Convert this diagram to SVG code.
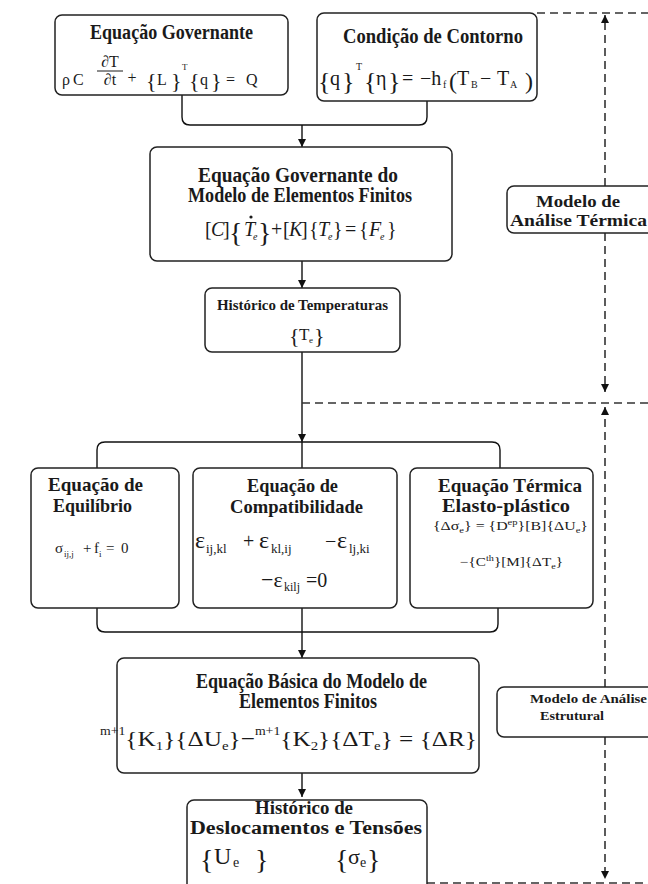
<svg xmlns="http://www.w3.org/2000/svg" width="648" height="884" viewBox="0 0 648 884">
<defs>
<style>
.box{fill:#fff;stroke:#222;stroke-width:1.5}
.ln{fill:none;stroke:#111;stroke-width:1.4}
.dash{fill:none;stroke:#333;stroke-width:1.6;stroke-dasharray:8 5}
.t{font-family:"Liberation Serif",serif;font-weight:bold;fill:#1a1a1a}
.m{font-family:"Liberation Serif",serif;fill:#1a1a1a}
.i{font-style:italic}
</style>
<marker id="ah" viewBox="0 0 10 10" refX="10" refY="5" markerWidth="8" markerHeight="8" markerUnits="userSpaceOnUse" orient="auto">
<path d="M0,0 L10,5 L0,10 Z" fill="#111"/>
</marker>
</defs>
<rect width="648" height="884" fill="#fff"/>

<g id="connectors">
<path class="ln" d="M182,95 V117 Q182,125 190,125 H419 Q427,125 427,117 V101"/>
<path class="ln" d="M302,125 V147" marker-end="url(#ah)"/>
<path class="ln" d="M302,261 V288" marker-end="url(#ah)"/>
<path class="ln" d="M302,352 V442" marker-end="url(#ah)"/>
<path class="ln" d="M97,468 V450 Q97,442 105,442 H492 Q500,442 500,450 V468"/>
<path class="ln" d="M302,442 V468"/>
<path class="ln" d="M97,608 V624 Q97,632 105,632 H490 Q498,632 498,624 V608"/>
<path class="ln" d="M302,608 V632"/>
<path class="ln" d="M302,632 V658" marker-end="url(#ah)"/>
<path class="ln" d="M302,773 V797" marker-end="url(#ah)"/>
<path class="dash" d="M537,13 H648"/>
<path class="dash" d="M605,186 V15" marker-end="url(#ah)"/>
<path class="dash" d="M605,233 V392" marker-end="url(#ah)"/>
<path class="dash" d="M302,403 H648"/>
<path class="dash" d="M605,687 V407" marker-end="url(#ah)"/>
<path class="dash" d="M605,737 V879" marker-end="url(#ah)"/>
<path class="dash" d="M427,883 H648"/>
</g>

<g id="n1">
<rect class="box" x="55" y="15" width="233" height="80" rx="7"/>
<text class="t" x="90" y="39" font-size="20" textLength="163" lengthAdjust="spacingAndGlyphs">Equação Governante</text>
<text class="m" font-size="16" y="85"><tspan x="62">ρ</tspan><tspan x="73">C</tspan></text>
<text class="m" font-size="16" x="110" y="67" text-anchor="middle">∂T</text>
<line x1="97" y1="71" x2="123" y2="71" stroke="#1a1a1a" stroke-width="1"/>
<text class="m" font-size="16" x="110" y="85" text-anchor="middle">∂t</text>
<text class="m" font-size="16" x="132" y="83" text-anchor="middle">+</text>
<text class="m" font-size="22" y="88"><tspan x="146">{</tspan><tspan x="171">}</tspan><tspan x="189">{</tspan><tspan x="211">}</tspan></text>
<text class="m" font-size="16" y="85"><tspan x="157">L</tspan><tspan x="200">q</tspan><tspan x="226">=</tspan><tspan x="246">Q</tspan></text>
<text class="m" font-size="9" x="182" y="70">T</text>
</g>

<g id="n2">
<rect class="box" x="317" y="13" width="220" height="88" rx="7"/>
<text class="t" x="343" y="43" font-size="20" textLength="180" lengthAdjust="spacingAndGlyphs">Condição de Contorno</text>
<text class="m" font-size="26" y="90"><tspan x="318">{</tspan><tspan x="342">}</tspan><tspan x="364">{</tspan><tspan x="388">}</tspan></text>
<text class="m" font-size="24" y="89"><tspan x="449">(</tspan><tspan x="525">)</tspan></text>
<text class="m" font-size="20" y="85"><tspan x="330">q</tspan><tspan x="376">η</tspan><tspan x="402">=</tspan><tspan x="420">−h</tspan><tspan x="457">T</tspan><tspan x="480">−</tspan><tspan x="497">T</tspan></text>
<text class="m" font-size="10" y="88"><tspan x="443">f</tspan><tspan x="471">B</tspan><tspan x="510">A</tspan></text>
<text class="m" font-size="10" x="356" y="70">T</text>
</g>

<g id="n3">
<rect class="box" x="150" y="147" width="302" height="114" rx="7"/>
<text class="t" x="198" y="182" font-size="20" textLength="200" lengthAdjust="spacingAndGlyphs">Equação Governante do</text>
<text class="t" x="188" y="202" font-size="20" textLength="224" lengthAdjust="spacingAndGlyphs">Modelo de Elementos Finitos</text>
<text class="m" font-size="20" y="236"><tspan x="205">[</tspan><tspan x="223">]</tspan><tspan x="271">+</tspan><tspan x="283">[</tspan><tspan x="301">]</tspan><tspan x="309">{</tspan><tspan x="333">}</tspan><tspan x="345">=</tspan><tspan x="359">{</tspan><tspan x="387">}</tspan></text>
<text class="m i" font-size="20" y="236"><tspan x="211">C</tspan><tspan x="289">K</tspan><tspan x="318">T</tspan><tspan x="369">F</tspan></text>
<text class="m" font-size="28" y="242"><tspan x="229">{</tspan><tspan x="258">}</tspan></text>
<text class="m i" font-size="20" x="244" y="236">T</text>
<circle cx="251" cy="217" r="1.6" fill="#1a1a1a"/>
<text class="m i" font-size="10" y="240"><tspan x="253">e</tspan><tspan x="328">e</tspan><tspan x="380">e</tspan></text>
</g>

<g id="n4">
<rect class="box" x="205" y="288" width="195" height="64" rx="7"/>
<text class="t" x="217" y="310" font-size="15" textLength="171" lengthAdjust="spacingAndGlyphs">Histórico de Temperaturas</text>
<text class="m" font-size="22" y="343"><tspan x="289">{</tspan><tspan x="314">}</tspan></text>
<text class="m" font-size="17" x="299" y="340">T</text>
<text class="m" font-size="9" x="309" y="343">e</text>
</g>

<g id="n5">
<rect class="box" x="31" y="468" width="148" height="140" rx="7"/>
<text class="t" x="48" y="491" font-size="19" textLength="95" lengthAdjust="spacingAndGlyphs">Equação de</text>
<text class="t" x="53" y="512" font-size="19" textLength="79" lengthAdjust="spacingAndGlyphs">Equilíbrio</text>
<text class="m" font-size="15" y="553"><tspan x="55">σ</tspan><tspan x="83">+</tspan><tspan x="94">f</tspan><tspan x="106">=</tspan><tspan x="121">0</tspan></text>
<text class="m" font-size="9" y="557"><tspan x="64">ij,j</tspan><tspan x="99">i</tspan></text>
</g>

<g id="n6">
<rect class="box" x="193" y="468" width="204" height="140" rx="7"/>
<text class="t" x="247" y="492" font-size="19" textLength="91" lengthAdjust="spacingAndGlyphs">Equação de</text>
<text class="t" x="230" y="513" font-size="19" textLength="133" lengthAdjust="spacingAndGlyphs">Compatibilidade</text>
<text class="m" font-size="24" y="548"><tspan x="195">ε</tspan><tspan x="259">ε</tspan><tspan x="337">ε</tspan></text>
<text class="m" font-size="20" y="548"><tspan x="243">+</tspan><tspan x="325">−</tspan></text>
<text class="m" font-size="13" y="553"><tspan x="206">ij,kl</tspan><tspan x="271">kl,ij</tspan><tspan x="349">lj,ki</tspan></text>
<text class="m" font-size="22" x="261" y="587">−ε</text>
<text class="m" font-size="12" x="284" y="591">kilj</text>
<text class="m" font-size="20" x="306" y="587">=0</text>
</g>

<g id="n7">
<rect class="box" x="410" y="468" width="183" height="140" rx="7"/>
<text class="t" x="438" y="492" font-size="18" textLength="144" lengthAdjust="spacingAndGlyphs">Equação Térmica</text>
<text class="t" x="442" y="512" font-size="18" textLength="128" lengthAdjust="spacingAndGlyphs">Elasto-plástico</text>
<text class="m" font-size="12" x="433" y="530" textLength="155" lengthAdjust="spacingAndGlyphs">{Δσ<tspan font-size="8" dy="3">e</tspan><tspan dy="-3">} = {D</tspan><tspan font-size="8" dy="-5">ep</tspan><tspan dy="5">}[B]{ΔU</tspan><tspan font-size="8" dy="3">e</tspan><tspan dy="-3">}</tspan></text>
<text class="m" font-size="12" x="460" y="566" textLength="103" lengthAdjust="spacingAndGlyphs">−{C<tspan font-size="8" dy="-5">th</tspan><tspan dy="5">}[M]{ΔT</tspan><tspan font-size="8" dy="3">e</tspan><tspan dy="-3">}</tspan></text>
</g>

<g id="n8">
<rect class="box" x="117" y="658" width="362" height="115" rx="7"/>
<text class="t" x="196" y="688" font-size="20" textLength="231" lengthAdjust="spacingAndGlyphs">Equação Básica do Modelo de</text>
<text class="t" x="239" y="708" font-size="20" textLength="138" lengthAdjust="spacingAndGlyphs">Elementos Finitos</text>
<text class="m" font-size="22" x="100" y="746" textLength="377" lengthAdjust="spacingAndGlyphs"><tspan font-size="12" dy="-11">m+1</tspan><tspan dy="11">{K</tspan><tspan font-size="13" dy="4">1</tspan><tspan dy="-4">}{ΔU</tspan><tspan font-size="13" dy="4">e</tspan><tspan dy="-4">}−</tspan><tspan font-size="12" dy="-11">m+1</tspan><tspan dy="11">{K</tspan><tspan font-size="13" dy="4">2</tspan><tspan dy="-4">}{ΔT</tspan><tspan font-size="13" dy="4">e</tspan><tspan dy="-4">} = {ΔR}</tspan></text>
</g>

<g id="n9">
<rect class="box" x="187" y="800" width="240" height="95" rx="7"/>
<text class="t" x="255" y="814" font-size="18" textLength="98" lengthAdjust="spacingAndGlyphs">Histórico de</text>
<text class="t" x="190" y="834" font-size="18" textLength="232" lengthAdjust="spacingAndGlyphs">Deslocamentos e Tensões</text>
<text class="m" font-size="28" y="869"><tspan x="200">{</tspan><tspan x="255">}</tspan><tspan x="335">{</tspan><tspan x="367">}</tspan></text>
<text class="m" font-size="24" x="214" y="864">U</text>
<text class="m" font-size="22" x="348" y="864">σ</text>
<text class="m" font-size="14" y="867"><tspan x="233">e</tspan><tspan x="360">e</tspan></text>
</g>

<g id="n10">
<rect class="box" x="507" y="186" width="160" height="47" rx="7"/>
<text class="t" x="578" y="207" font-size="16" text-anchor="middle" textLength="84" lengthAdjust="spacingAndGlyphs">Modelo de</text>
<text class="t" x="510" y="226" font-size="16" textLength="137" lengthAdjust="spacingAndGlyphs">Análise Térmica</text>
</g>

<g id="n11">
<rect class="box" x="497" y="687" width="170" height="50" rx="7"/>
<text class="t" x="530" y="703" font-size="13" textLength="117" lengthAdjust="spacingAndGlyphs">Modelo de Análise</text>
<text class="t" x="540" y="720" font-size="13" textLength="64" lengthAdjust="spacingAndGlyphs">Estrutural</text>
</g>
</svg>
